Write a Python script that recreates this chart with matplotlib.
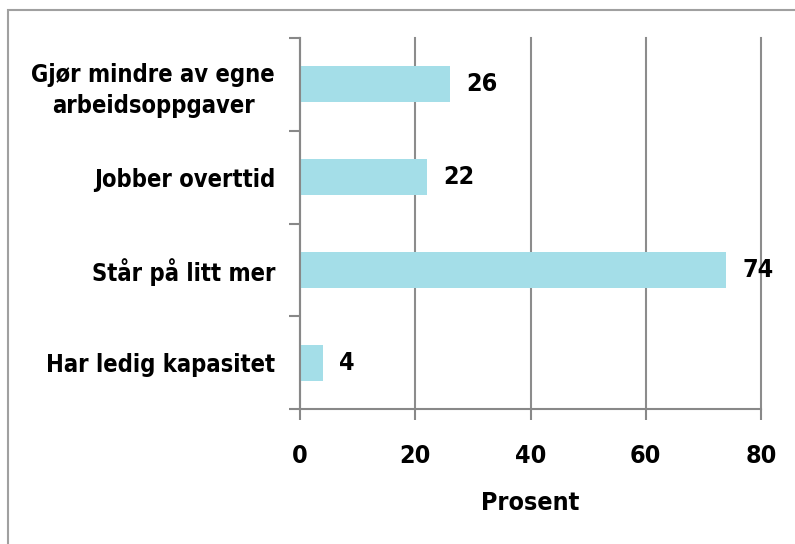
import matplotlib.pyplot as plt
from matplotlib.patches import Rectangle

kategorier = ['Gjør mindre av egne\narbeidsoppgaver', 'Jobber overttid',
              'Står på litt mer', 'Har ledig kapasitet']
prosent = [26, 22, 74, 4]
xticks = [0, 20, 40, 60, 80]

plt.rcParams['font.family'] = ['DejaVu Sans']
plt.rcParams['font.stretch'] = 'condensed'
plt.rcParams['font.weight'] = 'bold'

fig = plt.figure(figsize=(7.95, 5.44), dpi=100)
ax = fig.add_axes([300/795, 1 - 409/544, 461/795, 371/544])

# border round the whole chart
fig.patches.append(Rectangle((8/795, -0.1), 1.1, 1 - 10/544 + 0.1, transform=fig.transFigure,
                             fill=False, edgecolor='#a0a0a0', linewidth=1.5, zorder=0))

pos = list(range(len(kategorier)))
ax.barh(pos, prosent, height=0.39, color='#a4dee8', zorder=2)
for p, v in zip(pos, prosent):
    ax.text(v + 2.8, p, str(v), va='center', ha='left', fontsize=18, fontweight='bold')

ax.set_xlim(0, 80)
ax.set_ylim(3.5, -0.5)
ax.set_xticks(xticks)
ax.set_xticklabels([str(t) for t in xticks], fontsize=18, fontweight='bold')
ax.set_yticks([-0.5, 0.5, 1.5, 2.5, 3.5])
ax.set_yticklabels([])
ax.set_yticks(pos, minor=True)
ax.set_yticklabels(kategorier, minor=True, fontsize=17, fontweight='bold',
                   linespacing=1.35, multialignment='center')
ax.tick_params(axis='y', which='minor', length=0, pad=18)
ax.tick_params(axis='y', which='major', length=8, color='#888888', width=1.5)
ax.tick_params(axis='x', length=8, color='#888888', width=1.5, pad=17)

ax.grid(axis='x', color='#8c8c8c', linewidth=1.5, zorder=1)
for gl in ax.get_xgridlines():
    gl.set_clip_on(False)
ax.set_axisbelow(True)
for s in ['top', 'right']:
    ax.spines[s].set_visible(False)
for s in ['left', 'bottom']:
    ax.spines[s].set_color('#888888')
    ax.spines[s].set_linewidth(1.5)

ax.set_xlabel('Prosent', fontsize=18, fontweight='bold', labelpad=17)

fig.savefig('out.png', dpi=100)
